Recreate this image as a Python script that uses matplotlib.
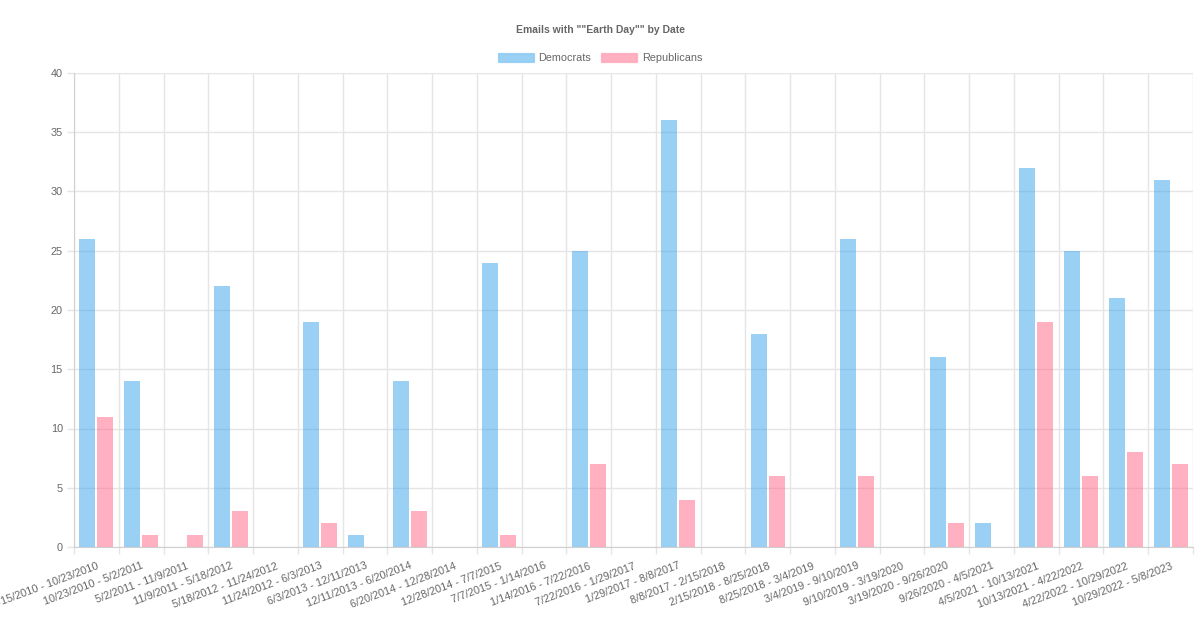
import matplotlib
matplotlib.use("Agg")
import matplotlib.pyplot as plt
from matplotlib.patches import Patch
import numpy as np

plt.rcParams['font.family'] = ['Liberation Sans', 'DejaVu Sans']

labels = ["4/15/2010 - 10/23/2010", "10/23/2010 - 5/2/2011", "5/2/2011 - 11/9/2011",
          "11/9/2011 - 5/18/2012", "5/18/2012 - 11/24/2012", "11/24/2012 - 6/3/2013",
          "6/3/2013 - 12/11/2013", "12/11/2013 - 6/20/2014", "6/20/2014 - 12/28/2014",
          "12/28/2014 - 7/7/2015", "7/7/2015 - 1/14/2016", "1/14/2016 - 7/22/2016",
          "7/22/2016 - 1/29/2017", "1/29/2017 - 8/8/2017", "8/8/2017 - 2/15/2018",
          "2/15/2018 - 8/25/2018", "8/25/2018 - 3/4/2019", "3/4/2019 - 9/10/2019",
          "9/10/2019 - 3/19/2020", "3/19/2020 - 9/26/2020", "9/26/2020 - 4/5/2021",
          "4/5/2021 - 10/13/2021", "10/13/2021 - 4/22/2022", "4/22/2022 - 10/29/2022",
          "10/29/2022 - 5/8/2023"]
democrats = [26, 14, 0, 22, 0, 19, 1, 14, 0, 24, 0, 25, 0, 36, 0, 18, 0, 26, 0, 16, 2, 32, 25, 21, 31]
republicans = [11, 1, 1, 3, 0, 2, 0, 3, 0, 1, 0, 7, 0, 4, 0, 6, 0, 6, 0, 2, 0, 19, 6, 8, 7]

blue_fill = (54/255, 162/255, 235/255, 0.5)
pink_fill = (255/255, 99/255, 132/255, 0.5)
grid_c = "#e5e5e5"
text_c = "#666666"
fs = 7.8

fig = plt.figure(figsize=(12, 6.35), dpi=100)
ax = fig.add_axes([74/1200, 88/635, 1119/1200, 474/635])

x = np.arange(len(labels))
group = 0.8
bw = group / 2 * 0.9
ax.bar(x - group/4, democrats, bw, color=blue_fill, linewidth=0, zorder=2)
ax.bar(x + group/4, republicans, bw, color=pink_fill, linewidth=0, zorder=2)

ax.set_xlim(-0.5, len(labels) - 0.5)
ax.set_ylim(0, 40)
ax.set_yticks(np.arange(0, 41, 5))

# grid lines sit on the category boundaries, labels on the centres
ax.set_xticks(np.arange(-0.5, len(labels)), minor=False)
ax.set_xticklabels([])
ax.set_xticks(x, minor=True)
ax.set_xticklabels(labels, minor=True, rotation=20.5, ha='right', rotation_mode='anchor',
                   fontsize=fs, color=text_c)
ax.tick_params(axis='x', which='minor', length=0, pad=10)
ax.tick_params(axis='x', which='major', length=5, color=grid_c, width=1)
ax.tick_params(axis='y', length=5, color=grid_c, width=1, labelsize=fs, labelcolor=text_c, pad=3)
ax.grid(True, which='major', color=grid_c, linewidth=1, zorder=0)
ax.set_axisbelow(True)
for s in ax.spines.values():
    s.set_visible(False)
ax.spines['left'].set_visible(True)
ax.spines['left'].set_color("#d0d0d0")
ax.spines['bottom'].set_visible(True)
ax.spines['bottom'].set_color("#d0d0d0")

fig.text(0.5, 1 - 30/635, 'Emails with ""Earth Day"" by Date', ha='center', va='center',
         fontsize=7.5, fontweight='bold', color=text_c)

handles = [Patch(facecolor=blue_fill, edgecolor=(54/255, 162/255, 235/255, 0.3), label="Democrats"),
           Patch(facecolor=pink_fill, edgecolor=(255/255, 99/255, 132/255, 0.3), label="Republicans")]
leg = fig.legend(handles=handles, loc='center', bbox_to_anchor=(0.5, 1 - 58/635), ncol=2,
                 frameon=False, fontsize=fs, handlelength=3.3, handleheight=1.0,
                 handletextpad=0.45, columnspacing=0.9)
for t in leg.get_texts():
    t.set_color(text_c)

fig.savefig("out.png", dpi=100)
